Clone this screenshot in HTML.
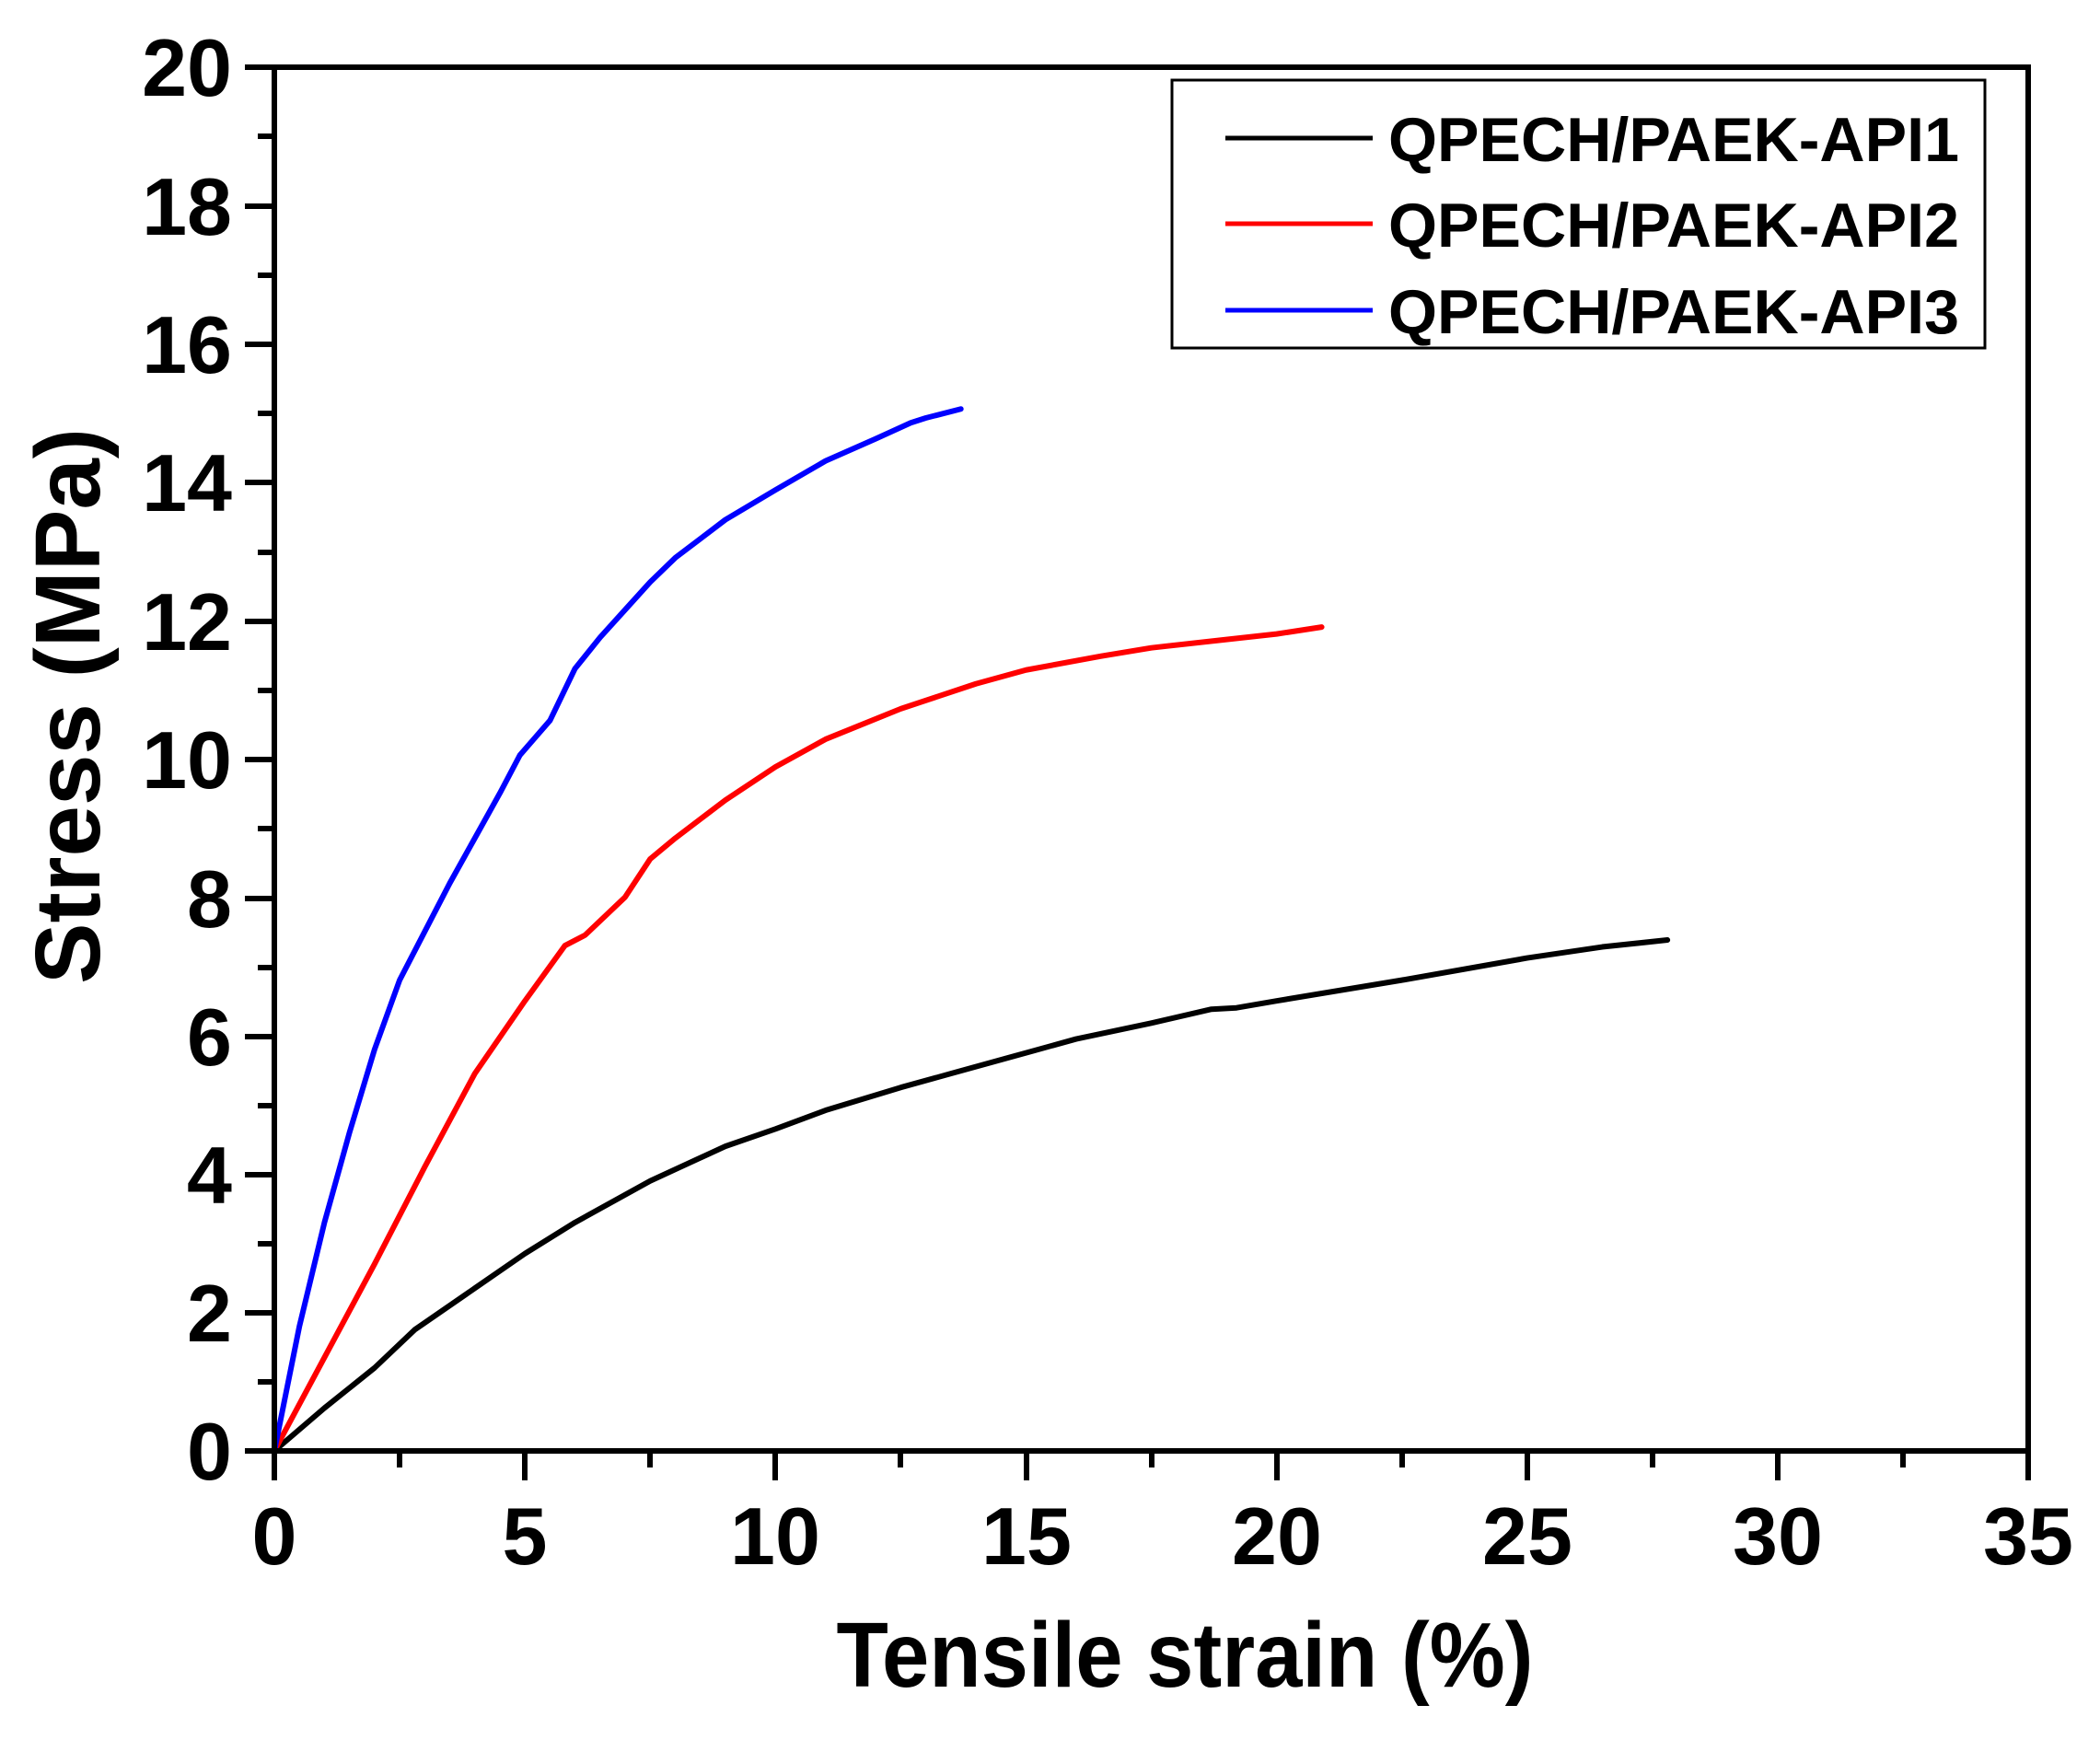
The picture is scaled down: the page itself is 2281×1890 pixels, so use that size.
<!DOCTYPE html>
<html><head><meta charset="utf-8"><style>html,body{margin:0;padding:0;background:#fff}</style></head>
<body>
<svg width="2281" height="1885" viewBox="0 0 2281 1885" xmlns="http://www.w3.org/2000/svg" font-family="Liberation Sans, Arial, sans-serif" font-weight="bold">
<rect width="2281" height="1885" fill="#fff"/>
<g transform="translate(298,1576) scale(54.43,-75.2)" fill="none" stroke-linejoin="round" stroke-linecap="round">
<polyline vector-effect="non-scaling-stroke" stroke="#000" stroke-width="6" points="0,0 1,0.62 2,1.2 2.8,1.75 4,2.35 5,2.85 6,3.3 7.5,3.9 9,4.4 10,4.65 11,4.92 12.5,5.25 13.5,5.45 15,5.75 16,5.95 17.5,6.18 18.7,6.38 19.2,6.4 20,6.5 22.5,6.8 25,7.12 26.5,7.28 27.8,7.38"/>
<polyline vector-effect="non-scaling-stroke" stroke="#f00" stroke-width="6" points="0,0 1,1.35 2,2.7 3,4.1 4,5.45 5,6.5 5.8,7.3 6.2,7.45 7,8 7.5,8.55 8,8.85 9,9.4 10,9.88 11,10.28 12.5,10.72 14,11.08 15,11.28 16.5,11.48 17.5,11.6 19,11.72 20,11.8 20.9,11.9"/>
<polyline vector-effect="non-scaling-stroke" stroke="#00f" stroke-width="6" points="0,0 0.5,1.8 1,3.3 1.5,4.6 2,5.8 2.5,6.8 3,7.5 3.5,8.2 4,8.85 4.5,9.5 4.9,10.05 5.2,10.3 5.5,10.55 6,11.3 6.5,11.75 7,12.15 7.5,12.55 8,12.9 9,13.45 10,13.88 11,14.3 12,14.62 12.7,14.85 13,14.92 13.7,15.05"/>
</g>
<g stroke="#000" stroke-width="6" fill="none">
<rect x="298" y="73" width="1905" height="1503"/>
<path d="M266,73H298 M266,224H298 M266,374H298 M266,524H298 M266,675H298 M266,825H298 M266,976H298 M266,1126H298 M266,1276H298 M266,1426H298 M266,1576H298"/>
<path d="M280,148H298 M280,299H298 M280,449H298 M280,600H298 M280,750H298 M280,900H298 M280,1051H298 M280,1201H298 M280,1351H298 M280,1501H298"/>
<path d="M298,1576V1608 M570,1576V1608 M842,1576V1608 M1115,1576V1608 M1387,1576V1608 M1659,1576V1608 M1931,1576V1608 M2203,1576V1608"/>
<path d="M434,1576V1594 M706,1576V1594 M978,1576V1594 M1251,1576V1594 M1523,1576V1594 M1795,1576V1594 M2067,1576V1594"/>
</g>
<g font-size="88" text-anchor="end" fill="#000">
<text x="252" y="104">20</text><text x="252" y="255">18</text><text x="252" y="405">16</text><text x="252" y="555">14</text><text x="252" y="706">12</text><text x="252" y="856">10</text><text x="252" y="1007">8</text><text x="252" y="1157">6</text><text x="252" y="1307">4</text><text x="252" y="1457">2</text><text x="252" y="1607">0</text>
</g>
<g font-size="88" text-anchor="middle" fill="#000">
<text x="298" y="1699">0</text><text x="570" y="1699">5</text><text x="842" y="1699">10</text><text x="1115" y="1699">15</text><text x="1387" y="1699">20</text><text x="1659" y="1699">25</text><text x="1931" y="1699">30</text><text x="2203" y="1699">35</text>
</g>
<text x="1287" y="1832" font-size="100" text-anchor="middle" textLength="757" lengthAdjust="spacingAndGlyphs">Tensile strain (%)</text>
<text transform="translate(108,767) rotate(-90)" font-size="100" text-anchor="middle" textLength="604" lengthAdjust="spacingAndGlyphs">Stress (MPa)</text>
<rect x="1273" y="87" width="883" height="291" fill="#fff" stroke="#000" stroke-width="3"/>
<g stroke-width="5">
<line x1="1331" y1="150" x2="1491" y2="150" stroke="#000"/>
<line x1="1331" y1="243" x2="1491" y2="243" stroke="#f00"/>
<line x1="1331" y1="337" x2="1491" y2="337" stroke="#00f"/>
</g>
<g font-size="68" fill="#000">
<text x="1508" y="175" textLength="620" lengthAdjust="spacingAndGlyphs">QPECH/PAEK-API1</text>
<text x="1508" y="268" textLength="620" lengthAdjust="spacingAndGlyphs">QPECH/PAEK-API2</text>
<text x="1508" y="362" textLength="620" lengthAdjust="spacingAndGlyphs">QPECH/PAEK-API3</text>
</g>
</svg>
</body></html>
